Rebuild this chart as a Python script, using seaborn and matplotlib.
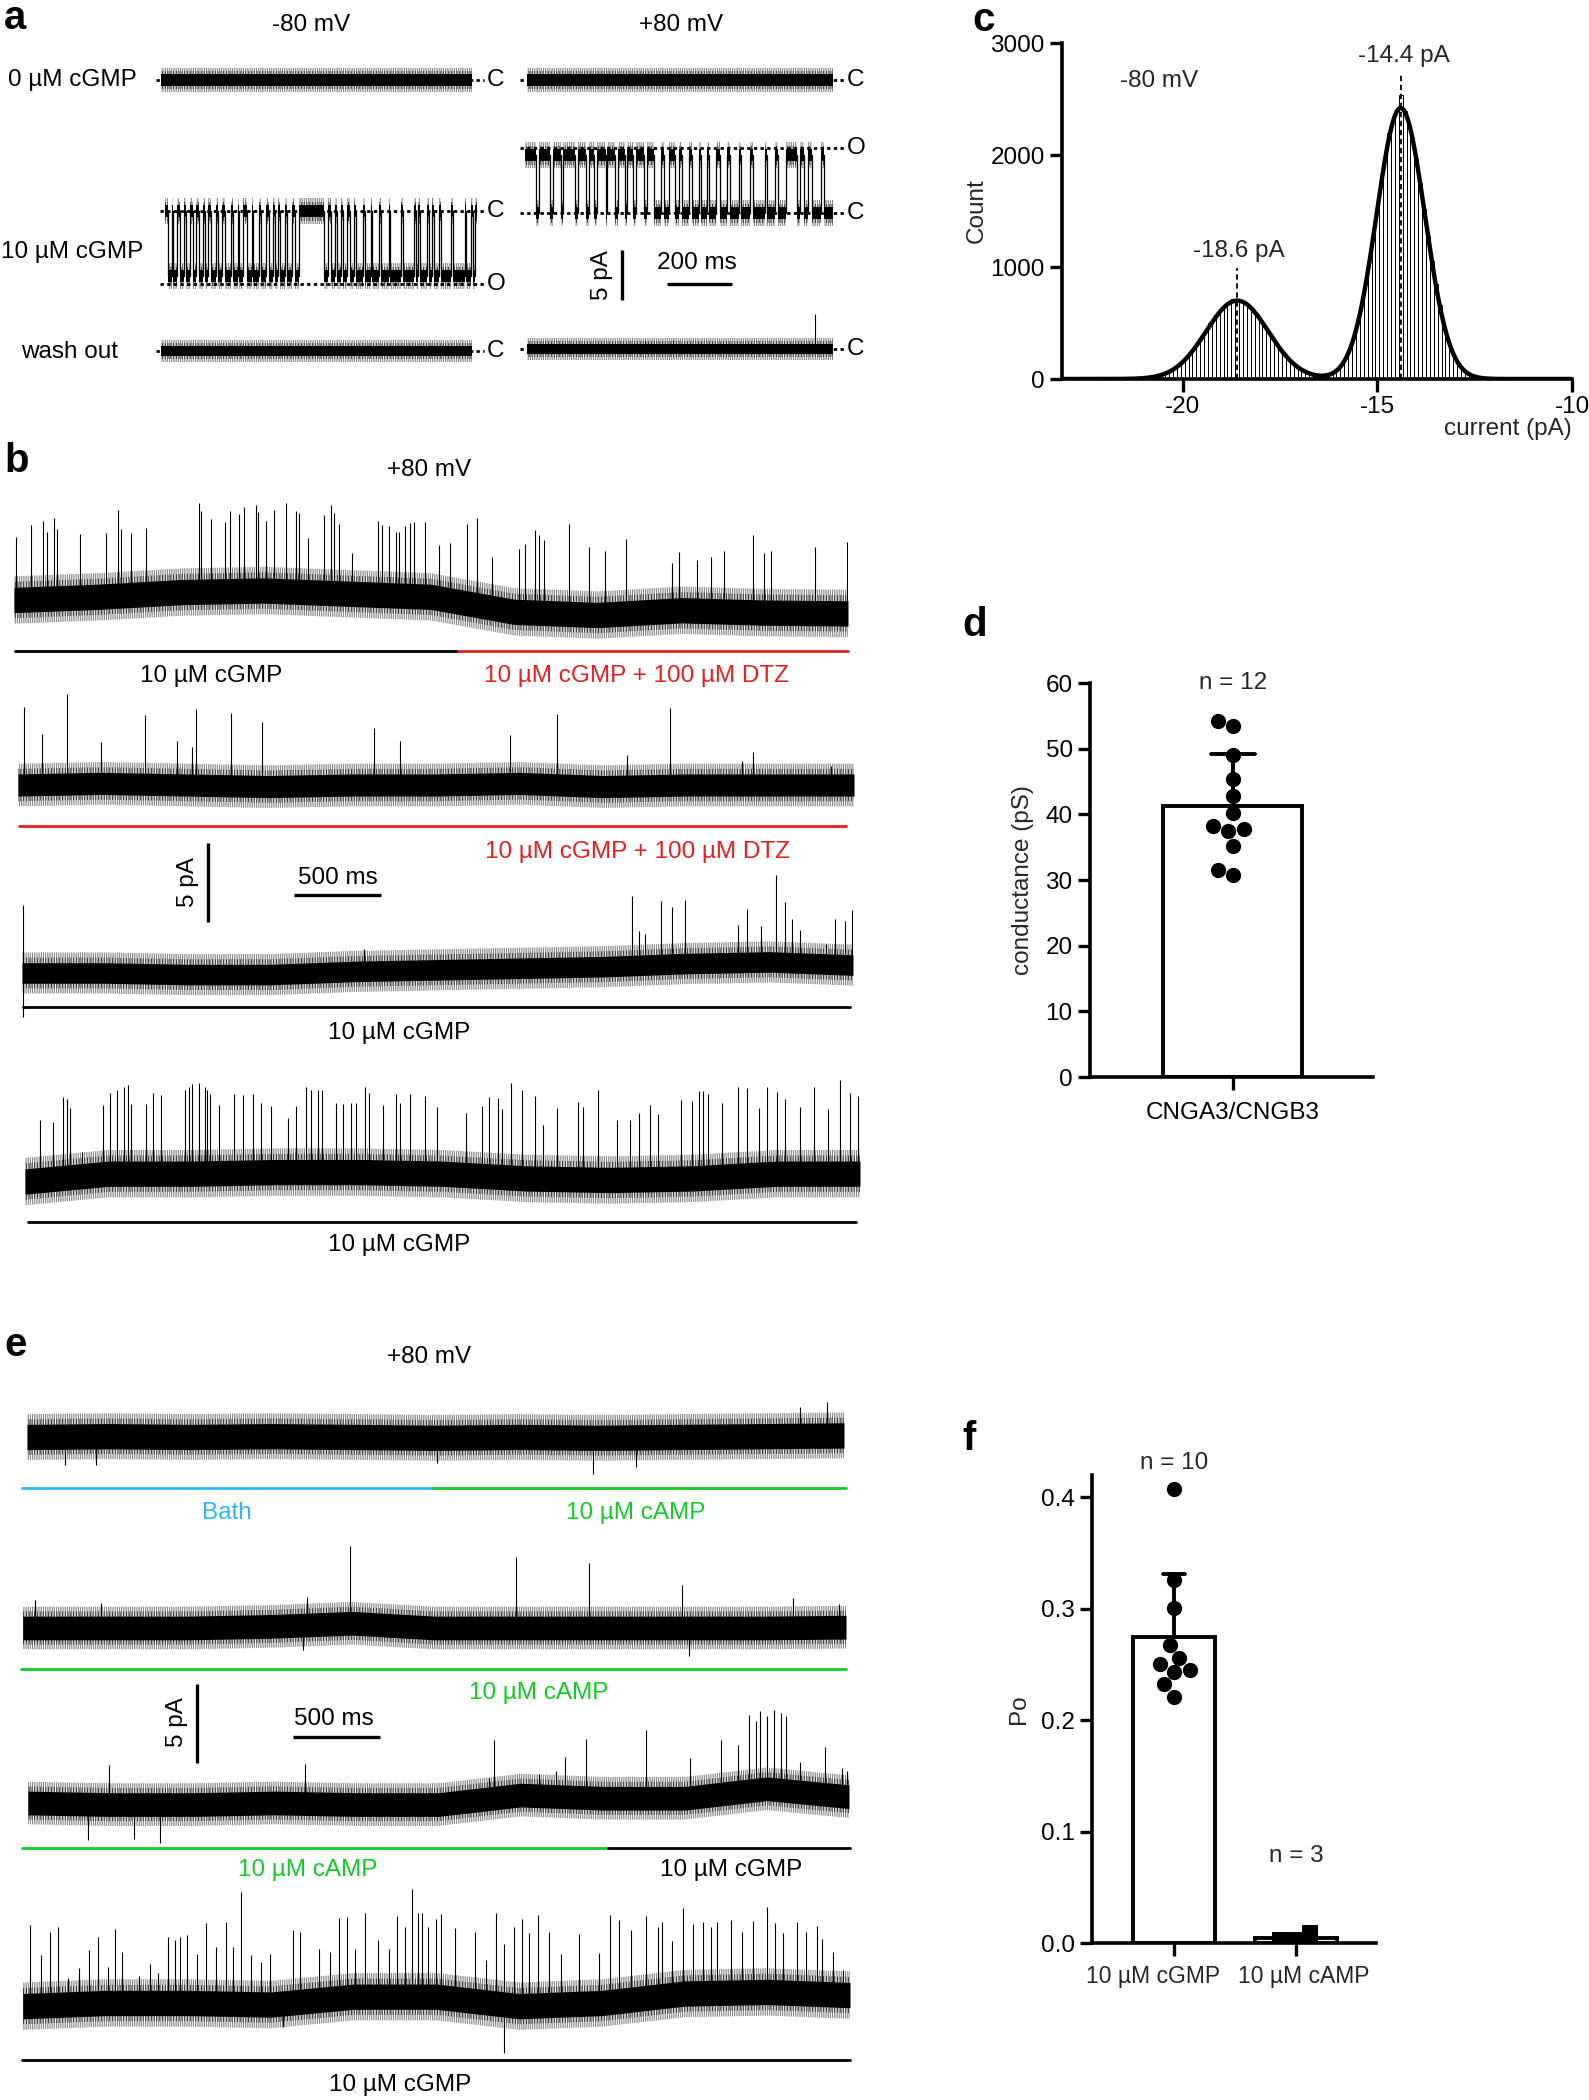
import numpy as np
import pandas as pd
import matplotlib
matplotlib.use("Agg")
import matplotlib.pyplot as plt
import seaborn as sns

# ---------------- data ----------------
# panel a: 10 uM cGMP patches, event intervals in ms (trace is 940 ms)
a_dur = 940
a_m80_closed = [(0, 10), (20, 25), (37, 44), (56, 62), (76, 83), (94, 101), (115, 120), (131, 140),
                (155, 160), (172, 182), (199, 204), (219, 224), (236, 246), (261, 266), (283, 288),
                (303, 312), (325, 330), (340, 345), (362, 369), (384, 391), (404, 480), (492, 499),
                (512, 519), (529, 536), (549, 558), (570, 575), (598, 603), (620, 625), (645, 650),
                (674, 679), (711, 716), (750, 755), (762, 768), (789, 795), (805, 810), (826, 832),
                (863, 868), (903, 908), (923, 928), (935, 940)]
a_p80_open = [(0, 34), (42, 76), (85, 110), (115, 152), (161, 186), (195, 212), (220, 246), (251, 276),
              (283, 305), (310, 330), (339, 364), (373, 395), (415, 425), (440, 457), (469, 479),
              (500, 510), (530, 537), (554, 561), (584, 595), (618, 625), (652, 659), (686, 696),
              (733, 740), (762, 771), (796, 830), (839, 852), (864, 876), (903, 913)]
a_m80_open_pA = -7.3
a_p80_open_pA = 6.5
a_wash_p80_spikes = [(364, 0.8), (449, 0.9), (884, 3.5)]

# panels b / e: 4800 ms sweeps, openings as (time ms, amplitude pA), drift at 11 even anchors
sweep_ms = 4800
b1_drift = [0.0, 0.2, 0.5, 0.6, 0.4, 0.2, -0.75, -0.95, -0.65, -0.8, -0.85]
b1_open = [(10, 4.0), (96, 4.7), (169, 4.9), (192, 4.2), (233, 5.1), (249, 4.4), (377, 4.0), (527, 4.0),
           (601, 5.4), (617, 4.2), (671, 3.9), (761, 4.2), (1064, 5.6), (1077, 5.1), (1135, 4.6),
           (1214, 4.4), (1246, 5.1), (1294, 4.9), (1326, 5.3), (1390, 5.4), (1406, 5.0), (1448, 4.4),
           (1496, 5.1), (1566, 5.6), (1624, 5.1), (1640, 5.0), (1694, 3.4), (1783, 4.9), (1822, 5.6),
           (1844, 5.1), (1870, 4.4), (1943, 2.6), (2093, 4.7), (2119, 4.4), (2157, 4.4), (2199, 4.0),
           (2215, 4.0), (2253, 4.4), (2279, 4.6), (2301, 4.7), (2365, 4.7), (2445, 3.4), (2509, 3.6),
           (2605, 5.0), (2662, 5.5), (2749, 3.2), (2908, 4.0), (2940, 4.3), (2998, 5.2), (3020, 4.9),
           (3052, 4.6), (3196, 5.7), (3308, 4.3), (3404, 4.0), (3525, 4.7), (3787, 3.0), (3829, 3.7),
           (3931, 3.2), (4011, 3.4), (4084, 3.8), (4251, 4.9), (4315, 3.8), (4356, 3.9), (4609, 4.2),
           (4794, 4.5)]
b2_drift = [0.0, 0.1, 0.0, -0.1, 0.0, 0.0, 0.1, -0.1, 0.0, 0.0, 0.0]
b2_open = [(35, 4.9), (137, 3.2), (281, 5.7), (478, 2.6), (727, 4.4), (912, 2.8), (998, 2.4), (1020, 4.8),
           (1221, 4.6), (1403, 4.1), (2044, 3.6), (2194, 2.8), (2825, 3.1), (3097, 4.5), (3495, 2.0),
           (3741, 4.9), (4155, 1.5), (4219, 2.1), (4666, 1.2)]
b3_drift = [0.0, 0.0, -0.1, -0.1, 0.1, 0.2, 0.3, 0.4, 0.6, 0.7, 0.5]
b3_open = [(5, 4.3), (5, -2.8), (1975, 1.4), (3523, 4.4), (3564, 2.2), (3596, 2.0), (3693, 4.0),
           (3757, 3.6), (3831, 4.0), (4136, 2.4), (4190, 3.4), (4271, 2.3), (4357, 5.5), (4409, 3.8),
           (4447, 2.8), (4495, 2.1), (4646, 1.3), (4698, 2.9), (4752, 2.8), (4794, 3.5)]
b4_drift = [-0.1, 0.4, 0.4, 0.5, 0.5, 0.4, 0.1, 0.0, 0.1, 0.4, 0.4]
b4_open = [(89, 3.8), (160, 3.6), (217, 5.1), (240, 5.0), (256, 4.4), (329, 1.5), (447, 4.4), (486, 5.1),
           (527, 5.3), (569, 5.5), (591, 5.6), (607, 4.4), (693, 4.4), (735, 5.1), (783, 5.0), (917, 5.3),
           (942, 5.5), (958, 5.7), (1000, 5.7), (1032, 5.5), (1044, 5.3), (1064, 5.0), (1118, 4.3),
           (1204, 5.0), (1252, 4.9), (1310, 5.0), (1357, 4.4), (1412, 4.2), (1511, 3.4), (1559, 4.2),
           (1613, 5.4), (1645, 5.2), (1683, 5.2), (1709, 5.2), (1789, 4.4), (1827, 4.3), (1875, 4.4),
           (1900, 4.4), (1955, 5.4), (1980, 5.0), (2060, 4.3), (2130, 5.0), (2156, 4.4), (2213, 5.0),
           (2300, 4.9), (2370, 4.2), (2533, 3.9), (2629, 4.4), (2667, 5.0), (2721, 5.0), (2740, 4.3),
           (2795, 6.0), (2859, 5.6), (2932, 5.2), (2980, 3.4), (3060, 4.5), (3178, 4.9), (3210, 4.6),
           (3296, 5.7), (3402, 3.8), (3475, 3.8), (3529, 4.2), (3593, 4.7), (3641, 4.1), (3769, 5.0),
           (3833, 4.9), (3874, 5.5), (3897, 5.5), (3929, 5.3), (4008, 4.7), (4098, 5.6), (4152, 5.5),
           (4222, 4.2), (4264, 5.5), (4321, 5.2), (4366, 4.7), (4456, 4.2), (4535, 5.5), (4615, 4.1),
           (4686, 5.9), (4743, 5.1), (4791, 4.9)]
e1_drift = [0.0, 0.05, 0.0, 0.05, 0.0, -0.05, 0.0, -0.05, 0.0, 0.05, 0.1]
e1_open = [(225, -1.8), (404, -1.8), (2410, -1.6), (3323, -2.3), (3577, -1.9), (4539, 1.8), (4702, 2.1)]
e2_drift = [0.0, 0.0, 0.0, 0.1, 0.3, 0.0, 0.0, 0.0, 0.0, 0.0, 0.05]
e2_open = [(71, 1.8), (457, 1.6), (1631, -1.6), (1654, 1.8), (1907, 4.9), (2873, 4.5), (3301, 4.1),
           (3846, 2.7), (3885, -1.8), (4491, 1.9), (4761, 1.5)]
e3_drift = [0.0, -0.1, -0.1, 0.0, -0.1, -0.1, 0.5, 0.3, 0.3, 0.9, 0.4]
e3_open = [(348, -2.3), (471, 2.5), (617, -2.2), (770, -2.4), (1617, 2.5), (2696, 1.3), (2722, 3.7),
           (2988, 1.4), (3086, 1.6), (3141, 2.5), (3264, 3.7), (3615, 4.3), (3872, 2.5), (4050, 3.4),
           (4151, 3.0), (4216, 4.8), (4255, 4.4), (4281, 5.0), (4320, 4.6), (4359, 5.0), (4401, 4.9),
           (4434, 4.7), (4515, 1.9), (4661, 3.0), (4758, 1.8), (4791, 1.6)]
e4_drift = [-0.2, 0.0, 0.0, -0.1, 0.4, 0.4, -0.2, 0.0, 0.6, 0.7, 0.5]
e4_open = [(42, 5.1), (106, 3.2), (155, 4.6), (203, 4.9), (261, 1.7), (326, 2.3), (381, 3.4), (436, 4.2),
           (494, 2.3), (532, 4.7), (574, 3.2), (671, 1.7), (736, 2.5), (784, 1.9), (839, 4.2), (881, 4.0),
           (913, 4.2), (952, 4.3), (1010, 3.1), (1065, 5.1), (1123, 3.6), (1177, 5.2), (1219, 3.6),
           (1268, 7.1), (1323, 3.1), (1381, 2.7), (1436, 3.2), (1510, -1.5), (1565, 4.6), (1607, 4.4),
           (1719, 3.2), (1784, 3.0), (1832, 5.1), (1881, 5.1), (1929, 3.0), (1984, 5.3), (2058, 3.6),
           (2123, 3.0), (2171, 5.1), (2220, 4.4), (2258, 6.8), (2294, 5.3), (2316, 5.3), (2349, 4.4),
           (2397, 4.9), (2429, 5.3), (2510, 4.5), (2623, 4.4), (2687, 2.7), (2745, 5.7), (2794, 3.8),
           (2794, -3.1), (2849, 5.0), (2897, 5.5), (2939, 4.6), (2987, 5.7), (3052, 4.6), (3123, 3.2),
           (3229, 4.4), (3342, 3.2), (3407, 5.5), (3462, 5.1), (3526, 4.4), (3616, 5.2), (3687, 4.4),
           (3710, 4.7), (3768, 3.4), (3832, 5.4), (3891, 4.4), (3945, 4.5), (3994, 4.2), (4026, 4.5),
           (4107, 4.6), (4171, 3.8), (4236, 4.5), (4316, 5.4), (4365, 4.4), (4413, 3.8), (4494, 4.5),
           (4542, 3.9), (4607, 4.3), (4639, 3.5), (4704, 2.7), (4762, 1.6)]

# panel c: all-points histogram at -80 mV (0.1 pA bins from -21.0 pA) and Gaussian fit
hist_start = -21.0
hist_counts = [8, 11, 16, 22, 31, 42, 56, 74, 95, 120,
               151, 187, 228, 272, 321, 380, 440, 500, 540, 575,
               617, 652, 690, 710, 700, 700, 690, 660, 620, 580,
               530, 477, 425, 372, 321, 272, 228, 187, 151, 120,
               95, 75, 57, 44, 35, 30, 29, 33, 44, 61,
               90, 133, 190, 269, 373, 501, 658, 845, 1053, 1280,
               1515, 1747, 1965, 2200, 2300, 2400, 2540, 2389, 2297, 2154,
               1965, 1747, 1515, 1280, 1053, 845, 658, 501, 373, 269,
               189, 131, 87, 56, 36, 22, 13]
fit_mu = [-18.6, -14.4]
fit_sd = [0.8, 0.62]
fit_amp = [700, 2420]

# panel d: single-channel conductance (pS), n = 12
conductance = [54.2, 53.5, 49.1, 45.4, 42.8, 40.2, 38.2, 37.4, 37.8, 35.2, 30.8, 31.5]
# panel f: open probability
po_cgmp = [0.407, 0.326, 0.301, 0.267, 0.256, 0.250, 0.245, 0.243, 0.232, 0.221]
po_camp = [0.009, 0.003, 0.002]
po_groups = ["10 µM cGMP", "10 µM cAMP"]

RED, BLUE, GREEN = "#E4201E", "#2DB8F0", "#12CC24"

# ---------------- figure ----------------
sns.set_style("white")
plt.rcParams["font.family"] = ["Liberation Sans", "DejaVu Sans"]
plt.rcParams["axes.unicode_minus"] = False
plt.rcParams["hatch.linewidth"] = 0.6

W, H = 1589, 2100
fig = plt.figure(figsize=(W / 100, H / 100), dpi=100)
FS = 17.5


def px_axes(x0, x1, y_top, y_bot):
    return fig.add_axes([x0 / W, 1 - y_bot / H, (x1 - x0) / W, (y_bot - y_top) / H])


ov = fig.add_axes([0, 0, 1, 1])
ov.set_xlim(0, W)
ov.set_ylim(H, 0)
ov.axis("off")


def txt(x, y, s, color="k", size=FS, va="center", **kw):
    ov.text(x, y, s, color=color, fontsize=size, ha=kw.pop("ha", "center"), va=va, **kw)


def letter(x, y, s):
    txt(x, y, s, size=29, fontweight="bold", ha="left", va="baseline")


def band(ax, t, y, core, fringe, step=None):
    ax.fill_between(t, y - fringe, y + fringe, step=step, facecolor="none",
                    edgecolor="0.45", hatch="|||||||||", linewidth=0)
    ax.fill_between(t, y - (core + fringe) / 2, y + (core + fringe) / 2, step=step,
                    facecolor="none", edgecolor="0.15", hatch="||||||", linewidth=0)
    ax.fill_between(t, y - core, y + core, step=step, color="k", linewidth=0)


def trace(x0, x1, ybase, ppa, dur, drift=None, spikes=(), steps=None, core=0.55, fringe=1.05, half=150):
    ax = px_axes(x0, x1, ybase - half, ybase + half)
    if steps is not None:
        intervals, inside, outside = steps
        t, lv, cur = [0.0], [], 0
        for a, b in intervals:
            if a > cur:
                lv.append(outside)
                t.append(a)
            lv.append(inside)
            t.append(b)
            cur = b
        if cur < dur:
            lv.append(outside)
            t.append(dur)
        lv.append(lv[-1])
        t, lv = np.array(t, float), np.array(lv, float)
        band(ax, t, lv, core, fringe, step="post")
        sns.lineplot(x=t, y=lv, drawstyle="steps-post", estimator=None, sort=False,
                     color="k", lw=0.9, ax=ax)
    else:
        base = np.zeros(11) if drift is None else np.asarray(drift, float)
        tt = np.linspace(0, dur, len(base))
        band(ax, tt, base, core, fringe)
        if len(spikes):
            st, sa = np.array(spikes, float).T
            b = np.interp(st, tt, base)
            ax.vlines(st, b, b + sa, color="k", lw=0.8)
    ax.set_xlim(0, dur)
    ax.set_ylim(-half / ppa, half / ppa)
    ax.axis("off")
    return ax


def dotted(ax, level, xl, xr, x0, x1, dur):
    k = dur / (x1 - x0)
    ax.hlines(level, (xl - x0) * k, (xr - x0) * k, colors="k", linestyles=(0, (1.2, 1.2)),
              lw=2.0, clip_on=False)


# ---- panel a
ppa_a = 10.0
letter(4, 29, "a")
txt(311, 25, "-80 mV")
txt(681, 25, "+80 mV")
txt(72, 80, "0 µM cGMP")
txt(72, 252, "10 µM cGMP")
txt(70, 352, "wash out")

ax = trace(161, 472, 80, ppa_a, a_dur, core=0.6, fringe=1.2)
dotted(ax, 0, 156, 484, 161, 472, a_dur)
ax = trace(527, 833, 80, ppa_a, a_dur, core=0.6, fringe=1.2)
dotted(ax, 0, 520, 846, 527, 833, a_dur)
ax = trace(165, 477, 211, ppa_a, a_dur, steps=(a_m80_closed, 0.0, a_m80_open_pA + 0.8), core=0.6, fringe=1.3)
dotted(ax, 0, 160, 484, 165, 477, a_dur)
dotted(ax, a_m80_open_pA, 160, 484, 165, 477, a_dur)
ax = trace(525, 833, 213, ppa_a, a_dur, steps=(a_p80_open, a_p80_open_pA - 0.7, 0.0), core=0.6, fringe=1.3)
dotted(ax, 0, 520, 846, 525, 833, a_dur)
dotted(ax, a_p80_open_pA, 520, 846, 525, 833, a_dur)
ax = trace(161, 472, 351, ppa_a, a_dur, core=0.5, fringe=1.1)
dotted(ax, 0, 156, 484, 161, 472, a_dur)
ax = trace(527, 833, 349, ppa_a, a_dur, spikes=a_wash_p80_spikes, core=0.5, fringe=1.1)
dotted(ax, 0, 520, 846, 527, 833, a_dur)
for y in (80, 211, 351):
    txt(496, y, "C")
txt(496, 211 - a_m80_open_pA * ppa_a, "O")
for y in (80, 213, 349):
    txt(856, y, "C")
txt(856, 213 - a_p80_open_pA * ppa_a, "O")
# scale bars (5 pA, 200 ms)
ov.plot([622, 622], [250, 250 + 5 * ppa_a], color="k", lw=2.4, solid_capstyle="butt")
ov.plot([667, 667 + 200 * 307 / a_dur], [284, 284], color="k", lw=2.4, solid_capstyle="butt")
txt(602, 275, "5 pA", rotation=90)
txt(697, 263, "200 ms")

# ---- panel b
ppa_b = 15.8
letter(4, 472, "b")
txt(429, 470, "+80 mV")
trace(14, 848, 600, ppa_b, sweep_ms, b1_drift, b1_open, core=0.8, fringe=1.5)
ov.plot([15, 458], [651, 651], color="k", lw=2)
ov.plot([458, 848], [651, 651], color=RED, lw=2)
txt(211, 676, "10 µM cGMP")
txt(636, 676, "10 µM cGMP + 100 µM DTZ", color=RED)
trace(18, 854, 785, ppa_b, sweep_ms, b2_drift, b2_open, core=0.7, fringe=1.35)
ov.plot([19, 846], [826, 826], color=RED, lw=2)
txt(637, 852, "10 µM cGMP + 100 µM DTZ", color=RED)
ov.plot([208, 208], [843, 843 + 5 * ppa_b], color="k", lw=2.4, solid_capstyle="butt")
ov.plot([294, 294 + 500 * 834 / sweep_ms], [895, 895], color="k", lw=2.4, solid_capstyle="butt")
txt(188, 882, "5 pA", rotation=90)
txt(338, 878, "500 ms")
trace(22, 853, 973, ppa_b, sweep_ms, b3_drift, b3_open, core=0.65, fringe=1.3)
ov.plot([23, 850], [1007, 1007], color="k", lw=2)
txt(399, 1033, "10 µM cGMP")
trace(25, 860, 1180, ppa_b, sweep_ms, b4_drift, b4_open, core=0.8, fringe=1.5)
ov.plot([28, 856], [1222, 1222], color="k", lw=2)
txt(399, 1245, "10 µM cGMP")

# ---- panel e
letter(4, 1356, "e")
txt(429, 1357, "+80 mV")
trace(27, 844, 1437, ppa_b, sweep_ms, e1_drift, e1_open, core=0.8, fringe=1.45)
ov.plot([22, 433], [1488, 1488], color=BLUE, lw=2)
ov.plot([433, 846], [1488, 1488], color=GREEN, lw=2)
txt(227, 1513, "Bath", color=BLUE)
txt(636, 1513, "10 µM cAMP", color=GREEN)
trace(23, 846, 1628, ppa_b, sweep_ms, e2_drift, e2_open, core=0.75, fringe=1.35)
ov.plot([21, 846], [1669, 1669], color=GREEN, lw=2)
txt(539, 1693, "10 µM cAMP", color=GREEN)
ov.plot([197, 197], [1684, 1684 + 5 * ppa_b], color="k", lw=2.4, solid_capstyle="butt")
ov.plot([293, 293 + 500 * 834 / sweep_ms], [1737, 1737], color="k", lw=2.4, solid_capstyle="butt")
txt(177, 1722, "5 pA", rotation=90)
txt(334, 1719, "500 ms")
trace(28, 849, 1803, ppa_b, sweep_ms, e3_drift, e3_open, core=0.75, fringe=1.35)
ov.plot([22, 608], [1848, 1848], color=GREEN, lw=2)
ov.plot([608, 850], [1848, 1848], color="k", lw=2)
txt(308, 1870, "10 µM cAMP", color=GREEN)
txt(731, 1870, "10 µM cGMP")
trace(23, 850, 2003, ppa_b, sweep_ms, e4_drift, e4_open, core=0.8, fringe=1.5)
ov.plot([22, 850], [2060, 2060], color="k", lw=2)
txt(400, 2085, "10 µM cGMP")

# ---- axes style helper for c, d, f
def style(ax):
    sns.despine(ax=ax)
    for s in ("left", "bottom"):
        ax.spines[s].set_linewidth(2.6)
        ax.spines[s].set_color("k")
    ax.tick_params(direction="out", length=9, width=2.4, labelsize=FS, colors="k",
                   left=True, bottom=True)
    ax.set_facecolor("none")


# ---- panel c
letter(972, 31, "c")
axc = px_axes(1062, 1572, 43, 379)
centers = np.round(hist_start + 0.1 * np.arange(len(hist_counts)), 2)
df_c = pd.DataFrame({"current": centers, "count": hist_counts})
sns.histplot(data=df_c, x="current", weights="count", binwidth=0.1,
             binrange=(hist_start - 0.05, float(centers[-1]) + 0.05), color="white",
             edgecolor="black", linewidth=0.7, alpha=1, ax=axc)
xf = np.linspace(-23.1, -10, 800)
yf = sum(a * np.exp(-(xf - m) ** 2 / (2 * s ** 2)) for a, m, s in zip(fit_amp, fit_mu, fit_sd))
sns.lineplot(x=xf, y=yf, color="k", lw=3.2, ax=axc)
axc.vlines(fit_mu, 0, [990, 2730], colors="k", linestyles=(0, (3, 2)), lw=1.3)
axc.text(-18.56, 1147, "-18.6 pA", fontsize=FS, ha="center", va="center")
axc.text(-14.31, 2880, "-14.4 pA", fontsize=FS, ha="center", va="center")
axc.text(-20.6, 2665, "-80 mV", fontsize=FS, ha="center", va="center")
axc.set_xlim(-23.1, -10)
axc.set_ylim(0, 3000)
axc.set_xticks([-20, -15, -10])
axc.set_yticks([0, 1000, 2000, 3000])
style(axc)
axc.set_ylabel("Count", fontsize=FS, labelpad=2)
axc.set_xlabel("current (pA)", fontsize=FS, loc="right", labelpad=0)

# ---- panel d
letter(962, 636, "d")
axd = px_axes(1090, 1373, 683, 1077)
df_d = pd.DataFrame({"group": ["CNGA3/CNGB3"] * len(conductance), "g": conductance})
sns.barplot(data=df_d, x="group", y="g", errorbar=None, width=0.8, color="white",
            edgecolor="black", linewidth=2.8, ax=axd)
m, sd = np.mean(conductance), np.std(conductance, ddof=1)
axd.plot([0, 0], [m, m + sd], color="k", lw=2.8)
axd.plot([-0.125, 0.125], [m + sd, m + sd], color="k", lw=2.8)
sns.swarmplot(data=df_d, x="group", y="g", color="k", size=11, ax=axd, zorder=3)
axd.text(0, 60, "n = 12", fontsize=FS, ha="center", va="center")
axd.set_xlim(-0.823, 0.806)
axd.set_ylim(0, 60)
axd.set_yticks(range(0, 61, 10))
style(axd)
axd.tick_params(axis="x", pad=9)
axd.set_xlabel("")
axd.set_ylabel("conductance (pS)", fontsize=FS, labelpad=8)

# ---- panel f
letter(962, 1450, "f")
axf = px_axes(1092, 1376, 1475, 1943)
df_f = pd.DataFrame({"group": [po_groups[0]] * len(po_cgmp) + [po_groups[1]] * len(po_camp),
                     "po": po_cgmp + po_camp})
sns.barplot(data=df_f, x="group", y="po", order=po_groups, errorbar=None, width=0.67,
            color="white", edgecolor="black", linewidth=2.8, ax=axf)
for i, vals in enumerate([po_cgmp, po_camp]):
    m, sd = np.mean(vals), np.std(vals, ddof=1)
    axf.plot([i, i], [m, m + sd], color="k", lw=2.8)
    axf.plot([i - 0.09, i + 0.09], [m + sd, m + sd], color="k", lw=2.8)
sns.swarmplot(data=df_f[df_f.group == po_groups[0]], x="group", y="po", order=po_groups,
              color="k", size=11, ax=axf, zorder=3)
sns.swarmplot(data=df_f[df_f.group == po_groups[1]], x="group", y="po", order=po_groups,
              color="k", size=11, marker="s", ax=axf, zorder=3)
axf.text(0, 0.431, "n = 10", fontsize=FS, ha="center", va="center")
axf.text(1, 0.078, "n = 3", fontsize=FS, ha="center", va="center")
axf.set_xlim(-0.672, 1.656)
axf.set_ylim(0, 0.42)
axf.set_yticks([0, 0.1, 0.2, 0.3, 0.4])
axf.set_yticklabels([f"{v:.1f}" for v in [0, 0.1, 0.2, 0.3, 0.4]])
style(axf)
# category names sit side by side under the ticks, as in the original
axf.set_xticklabels([])
for pos, lab in zip([-0.17, 1.06], po_groups):
    axf.text(pos, -0.072, lab, fontsize=16.5, ha="center", va="center",
             transform=axf.get_xaxis_transform())
axf.set_xlabel("")
axf.set_ylabel("Po", fontsize=FS, labelpad=8)

fig.savefig("out.png", dpi=100)
